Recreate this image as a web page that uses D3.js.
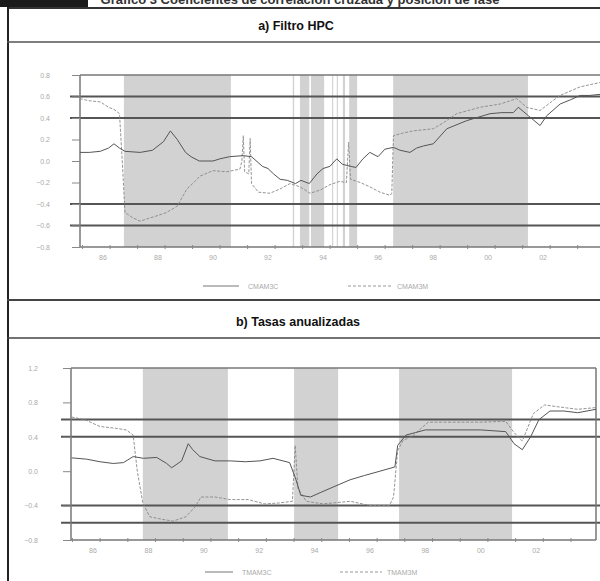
<!DOCTYPE html>
<html><head><meta charset="utf-8">
<script src="https://cdn.jsdelivr.net/npm/d3@7"></script>
<style>body{margin:0;background:#fff}svg{display:block}</style>
</head><body>
<svg id="c" width="600" height="581"></svg>
<script>
// ---------- data ----------
const topTitle = "Gráfico 3  Coeficientes de correlación cruzada y posición de fase";
const titleA = "a) Filtro HPC";
const titleB = "b) Tasas anualizadas";
const legendA = ["CMAM3C", "CMAM3M"];
const legendB = ["TMAM3C", "TMAM3M"];
const tickLabelsX = ["86","88","90","92","94","96","98","00","02"];
const tickYearsX = [1986,1988,1990,1992,1994,1996,1998,2000,2002];
const tickYA = [0.8,0.6,0.4,0.2,0.0,-0.2,-0.4,-0.6,-0.8];
const tickYB = [1.2,0.8,0.4,0.0,-0.4,-0.8];
const bandLines = [0.6,0.4,-0.4,-0.6];

const shadeA = [[1986.76,1990.65],[1992.9,1992.95],[1993.16,1993.5],[1993.56,1994.04],[1994.33,1994.37],[1994.5,1994.54],[1994.72,1994.8],[1994.95,1995.24],[1996.55,2001.45]];
const shadeB = [[1987.8,1990.87],[1993.26,1994.85],[1997.05,2001.13]];

const cmam3c = [[1985.16,0.08],[1985.5,0.08],[1985.9,0.09],[1986.2,0.12],[1986.4,0.16],[1986.6,0.12],[1986.8,0.09],[1987.35,0.08],[1987.8,0.1],[1988.2,0.18],[1988.45,0.28],[1988.7,0.2],[1989.0,0.08],[1989.2,0.04],[1989.5,0.0],[1990.0,0.0],[1990.25,0.02],[1990.6,0.04],[1991.1,0.05],[1991.4,0.04],[1991.8,-0.05],[1992.0,-0.07],[1992.2,-0.12],[1992.44,-0.17],[1992.7,-0.18],[1993.0,-0.21],[1993.2,-0.18],[1993.5,-0.21],[1993.78,-0.12],[1994.0,-0.07],[1994.25,-0.05],[1994.5,0.02],[1994.7,-0.03],[1995.0,-0.05],[1995.2,-0.06],[1995.45,0.02],[1995.7,0.08],[1996.0,0.04],[1996.25,0.11],[1996.56,0.127],[1996.8,0.1],[1997.16,0.08],[1997.4,0.12],[1997.65,0.14],[1998.01,0.16],[1998.5,0.30],[1999.22,0.375],[2000.07,0.44],[2000.5,0.45],[2000.92,0.45],[2001.1,0.50],[2001.47,0.42],[2001.89,0.33],[2002.13,0.42],[2002.62,0.53],[2003.0,0.57],[2003.35,0.61],[2003.7,0.61],[2004.07,0.62]];
const cmam3m = [[1985.16,0.58],[1985.5,0.56],[1985.9,0.55],[1986.2,0.5],[1986.4,0.48],[1986.6,0.44],[1986.7,0.0],[1986.8,-0.48],[1987.1,-0.53],[1987.35,-0.56],[1987.7,-0.53],[1987.96,-0.51],[1988.3,-0.48],[1988.7,-0.42],[1989.05,-0.26],[1989.3,-0.2],[1989.53,-0.14],[1990.0,-0.09],[1990.5,-0.1],[1990.98,-0.075],[1991.05,0.0],[1991.1,0.235],[1991.15,-0.1],[1991.3,-0.12],[1991.35,0.21],[1991.4,-0.21],[1991.65,-0.29],[1992.07,-0.30],[1992.44,-0.26],[1992.8,-0.21],[1993.16,-0.24],[1993.53,-0.30],[1993.9,-0.27],[1994.25,-0.22],[1994.6,-0.19],[1994.85,-0.2],[1994.93,0.175],[1995.0,-0.17],[1995.35,-0.2],[1995.7,-0.24],[1996.07,-0.29],[1996.44,-0.32],[1996.5,-0.3],[1996.56,0.235],[1996.9,0.26],[1997.28,0.28],[1998.01,0.30],[1998.4,0.36],[1998.86,0.44],[1999.71,0.50],[2000.44,0.53],[2001.04,0.58],[2001.4,0.50],[2001.89,0.47],[2002.3,0.55],[2002.62,0.61],[2003.35,0.69],[2004.07,0.73]];
const tmam3c = [[1985.23,0.155],[1985.77,0.14],[1986.25,0.11],[1986.73,0.09],[1987.1,0.1],[1987.45,0.17],[1987.82,0.15],[1988.3,0.16],[1988.66,0.09],[1988.84,0.04],[1989.2,0.12],[1989.44,0.32],[1989.6,0.25],[1989.86,0.17],[1990.4,0.12],[1990.95,0.12],[1991.5,0.11],[1992.03,0.12],[1992.5,0.15],[1993.1,0.1],[1993.33,-0.1],[1993.5,-0.28],[1993.85,-0.3],[1994.2,-0.25],[1994.7,-0.18],[1995.28,-0.1],[1995.8,-0.05],[1996.36,0.0],[1996.9,0.05],[1997.0,0.3],[1997.3,0.42],[1997.65,0.45],[1998.0,0.48],[1999.0,0.48],[2000.0,0.48],[2000.9,0.46],[2001.2,0.32],[2001.5,0.25],[2001.8,0.4],[2002.1,0.6],[2002.5,0.7],[2003.0,0.7],[2003.5,0.68],[2004.16,0.72]];
const tmam3m = [[1985.23,0.63],[1985.7,0.6],[1986.25,0.52],[1986.8,0.5],[1987.2,0.48],[1987.45,0.42],[1987.6,0.0],[1987.8,-0.37],[1988.05,-0.53],[1988.5,-0.56],[1988.9,-0.58],[1989.35,-0.53],[1989.7,-0.41],[1989.9,-0.3],[1990.4,-0.3],[1990.95,-0.33],[1991.6,-0.33],[1992.2,-0.38],[1992.7,-0.37],[1993.2,-0.35],[1993.3,0.3],[1993.4,-0.2],[1993.7,-0.35],[1994.3,-0.38],[1995.3,-0.35],[1996.0,-0.4],[1996.7,-0.4],[1996.85,-0.3],[1997.0,0.24],[1997.2,0.36],[1997.5,0.4],[1998.1,0.57],[1999.0,0.57],[2000.0,0.57],[2000.9,0.58],[2001.2,0.45],[2001.5,0.35],[2001.9,0.67],[2002.3,0.77],[2003.0,0.74],[2003.5,0.72],[2004.16,0.74]];

// ---------- drawing ----------
const svg = d3.select("#c");
const FONT = "Liberation Sans, Arial, sans-serif";

// header block and frame
svg.append("rect").attr("x",0).attr("y",0).attr("width",88).attr("height",7).attr("fill","#1a1a1a");
svg.append("text").attr("x",300).attr("y",4).attr("text-anchor","middle")
  .attr("font-family",FONT).attr("font-weight","bold").attr("font-size",13).attr("fill","#333").text(topTitle);
svg.append("line").attr("x1",7).attr("x2",600).attr("y1",8).attr("y2",8).attr("stroke","#333").attr("stroke-width",2);
svg.append("line").attr("x1",8).attr("x2",8).attr("y1",7).attr("y2",581).attr("stroke","#222").attr("stroke-width",2);
svg.append("line").attr("x1",7).attr("x2",600).attr("y1",42).attr("y2",42).attr("stroke","#555").attr("stroke-width",1.5);
svg.append("line").attr("x1",7).attr("x2",600).attr("y1",300).attr("y2",300).attr("stroke","#444").attr("stroke-width",2);
svg.append("line").attr("x1",7).attr("x2",600).attr("y1",338).attr("y2",338).attr("stroke","#444").attr("stroke-width",1.5);

svg.append("text").attr("x",296).attr("y",30).attr("text-anchor","middle").attr("font-family",FONT)
  .attr("font-weight","bold").attr("font-size",12.5).attr("fill","#111").text(titleA);
svg.append("text").attr("x",298).attr("y",326).attr("text-anchor","middle").attr("font-family",FONT)
  .attr("font-weight","bold").attr("font-size",12.5).attr("fill","#111").text(titleB);

function panel(cfg){
  const x = d3.scaleLinear().domain(cfg.xDomain).range([cfg.left, cfg.right]);
  const y = d3.scaleLinear().domain(cfg.yDomain).range([cfg.bottom, cfg.top]);
  const g = svg.append("g");
  // shading
  g.selectAll("rect.sh").data(cfg.shade).join("rect")
    .attr("x",d=>x(d[0])).attr("width",d=>Math.max(1,x(d[1])-x(d[0])))
    .attr("y",cfg.top).attr("height",cfg.bottom-cfg.top).attr("fill","#d2d2d2");
  // band lines
  g.selectAll("line.bl").data(bandLines).join("line")
    .attr("x1",cfg.left-10).attr("x2",600).attr("y1",d=>y(d)).attr("y2",d=>y(d))
    .attr("stroke","#555").attr("stroke-width",2);
  // frame
  g.append("line").attr("x1",cfg.left).attr("x2",cfg.right).attr("y1",cfg.top).attr("y2",cfg.top).attr("stroke","#777").attr("stroke-width",1.5);
  g.append("line").attr("x1",cfg.left).attr("x2",cfg.right).attr("y1",cfg.bottom).attr("y2",cfg.bottom).attr("stroke","#777").attr("stroke-width",1.5);
  g.append("line").attr("x1",cfg.left).attr("x2",cfg.left).attr("y1",cfg.top).attr("y2",cfg.bottom).attr("stroke","#777").attr("stroke-width",1.5);
  if(cfg.rightEdge) g.append("line").attr("x1",cfg.right).attr("x2",cfg.right).attr("y1",cfg.top).attr("y2",cfg.bottom).attr("stroke","#777").attr("stroke-width",1.5);
  // y axis
  const ya = d3.axisLeft(y).tickValues(cfg.yTicks).tickSize(8).tickFormat(d3.format(".1f"));
  const yg = g.append("g").attr("transform",`translate(${cfg.left},0)`).call(ya);
  yg.select(".domain").remove();
  yg.selectAll("line").attr("stroke","#888");
  yg.selectAll("text").attr("font-family",FONT).attr("font-size",7).attr("fill","#aaa").attr("x",cfg.labelX);
  // x axis minor ticks (every year)
  const yrs = d3.range(Math.ceil(cfg.xDomain[0]+0.76), cfg.xDomain[1]+0.76, 1).map(v=>v-0.76);
  const xa = d3.axisBottom(x).tickValues(yrs).tickSize(4).tickFormat("");
  const xg = g.append("g").attr("transform",`translate(0,${cfg.bottom})`).call(xa);
  xg.select(".domain").remove();
  xg.selectAll("line").attr("stroke","#888").attr("y1",-2).attr("y2",2);
  g.selectAll("text.xl").data(tickYearsX).join("text")
    .attr("x",d=>x(d)).attr("y",cfg.bottom+13).attr("text-anchor","middle")
    .attr("font-family",FONT).attr("font-size",7).attr("fill","#aaa")
    .text((d,i)=>tickLabelsX[i]);
  // series
  const line = d3.line().x(d=>x(d[0])).y(d=>y(d[1]));
  g.append("path").datum(cfg.dashed).attr("d",line).attr("fill","none")
    .attr("stroke","#888").attr("stroke-width",0.9).attr("stroke-dasharray","3,1.5");
  g.append("path").datum(cfg.solid).attr("d",line).attr("fill","none")
    .attr("stroke","#555").attr("stroke-width",1);
  // legend
  const ly = cfg.legendY;
  g.append("line").attr("x1",cfg.leg[0]).attr("x2",cfg.leg[1]).attr("y1",ly).attr("y2",ly).attr("stroke","#777").attr("stroke-width",1);
  g.append("text").attr("x",cfg.leg[1]+9).attr("y",ly+2.5).attr("font-family",FONT).attr("font-size",7).attr("fill","#aaa").text(cfg.legText[0]);
  g.append("line").attr("x1",cfg.leg[2]).attr("x2",cfg.leg[3]).attr("y1",ly).attr("y2",ly).attr("stroke","#999").attr("stroke-width",1).attr("stroke-dasharray","3,2");
  g.append("text").attr("x",cfg.leg[3]+5).attr("y",ly+2.5).attr("font-family",FONT).attr("font-size",7).attr("fill","#aaa").text(cfg.legText[1]);
}

panel({left:80,right:600,top:75,bottom:247,xDomain:[1985.164,2004.07],yDomain:[-0.8,0.8],
  yTicks:tickYA,shade:shadeA,solid:cmam3c,dashed:cmam3m,rightEdge:false,labelX:-30,
  legendY:286,leg:[203,239,348,392],legText:legendA});
panel({left:71,right:596,top:368,bottom:540,xDomain:[1985.206,2004.16],yDomain:[-0.8,1.2],
  yTicks:tickYB,shade:shadeB,solid:tmam3c,dashed:tmam3m,rightEdge:true,labelX:-33,
  legendY:572,leg:[205,233,340,382],legText:legendB});
</script>
</body></html>
